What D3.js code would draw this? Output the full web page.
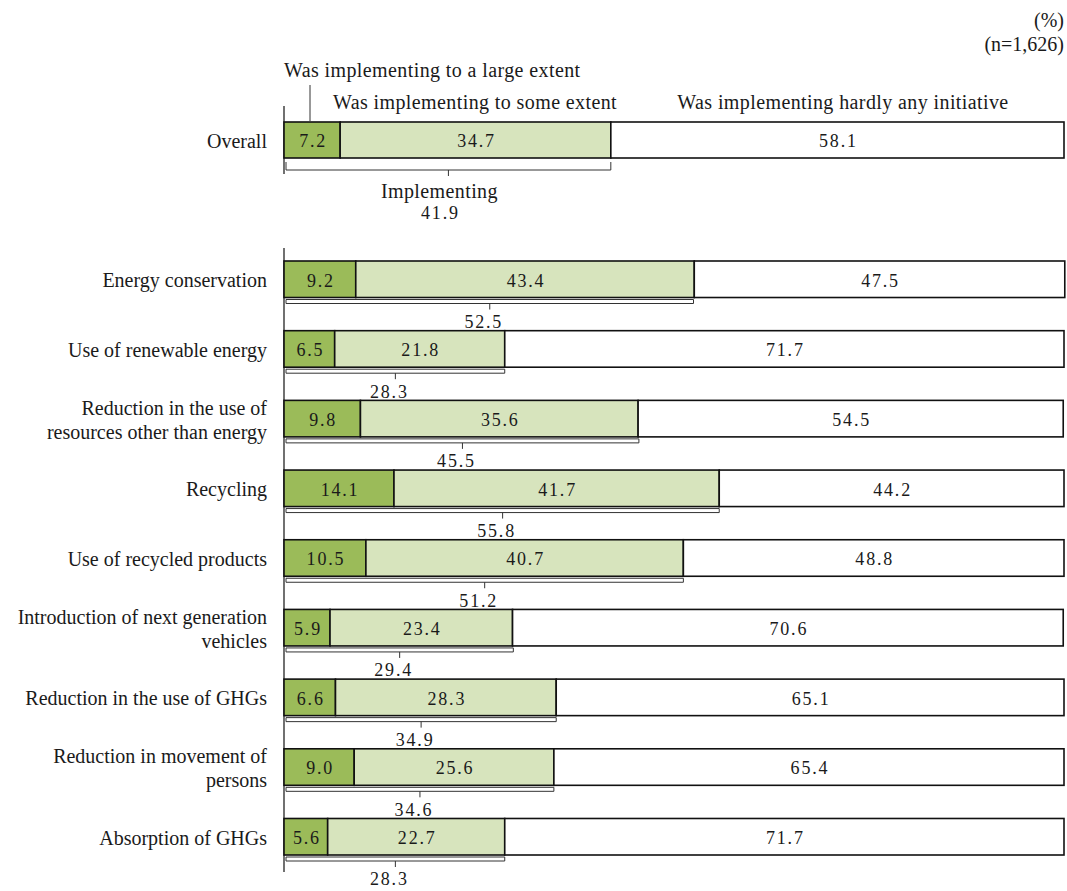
<!DOCTYPE html>
<html>
<head>
<meta charset="utf-8">
<script src="https://cdn.jsdelivr.net/npm/d3@7"></script>
<style>
  body { margin: 0; background: #fff; }
  svg text { font-family: "Liberation Serif", "Times New Roman", serif; fill: #1a1a1a; }
  .num { font-size: 18px; letter-spacing: 1.8px; }
  .lab { font-size: 20px; }
  .leg { font-size: 20px; letter-spacing: 0.4px; }
</style>
</head>
<body>
<div id="chart-area"></div>
<script>
// data
var categories = ["Energy conservation", "Use of renewable energy", "Reduction in the use of\nresources other than energy",
    "Recycling", "Use of recycled products", "Introduction of next generation\nvehicles",
    "Reduction in the use of GHGs", "Reduction in movement of\npersons", "Absorption of GHGs"];
var large = [9.2, 6.5, 9.8, 14.1, 10.5, 5.9, 6.6, 9.0, 5.6];
var some = [43.4, 21.8, 35.6, 41.7, 40.7, 23.4, 28.3, 25.6, 22.7];
var hardly = [47.5, 71.7, 54.5, 44.2, 48.8, 70.6, 65.1, 65.4, 71.7];
var implementing = [52.5, 28.3, 45.5, 55.8, 51.2, 29.4, 34.9, 34.6, 28.3];

var overall = {large: 7.2, some: 34.7, hardly: 58.1, implementing: 41.9};
var seriesNames = ["Was implementing to a large extent", "Was implementing to some extent", "Was implementing hardly any initiative"];
var colors = ["#9bbb59", "#d7e4bd", "#ffffff"];

var width = 1067, height = 891;
var svg = d3.select("#chart-area").append("svg")
    .attr("width", width)
    .attr("height", height);

var x = d3.scaleLinear().domain([0, 100]).range([284, 1064]);

var y = d3.scaleBand()
    .domain(categories)
    .range([261, 855])
    .paddingInner(0.476)
    .paddingOuter(0);

var rows = categories.map(function(c, i) {
    return {name: c, vals: [large[i], some[i], hardly[i]], total: implementing[i]};
});

function drawBar(g, vals, y0, h) {
    var start = 0;
    vals.forEach(function(v, k) {
        g.append("rect")
            .attr("x", x(start))
            .attr("y", y0)
            .attr("width", x(start + v) - x(start))
            .attr("height", h)
            .attr("fill", colors[k])
            .attr("stroke", "#111")
            .attr("stroke-width", 1.6);
        g.append("text")
            .attr("class", "num")
            .attr("x", (x(start) + x(start + v)) / 2 + 1)
            .attr("y", y0 + h / 2 + 1)
            .attr("dy", "0.35em")
            .attr("text-anchor", "middle")
            .text(v.toFixed(1));
        start += v;
    });
}

// flattened brace under the "implementing" part
function drawBracket(g, total, yTop, open) {
    var x0 = x(0) + 2, x1 = x(total), xm = (x0 + x1) / 2;
    var d = open
        ? "M" + x0 + "," + yTop + "V" + (yTop + 8) + "H" + x1 + "V" + yTop
          + "M" + xm + "," + (yTop + 8) + "V" + (yTop + 14)
        : "M" + x0 + "," + (yTop + 4) + "V" + yTop + "H" + x1 + "V" + (yTop + 4) + "H" + x0
          + "M" + xm + "," + (yTop + 4) + "V" + (yTop + 10);
    g.append("path")
        .attr("d", d)
        .attr("fill", "none")
        .attr("stroke", "#333")
        .attr("stroke-width", 1);
}

// overall
var og = svg.append("g");
og.append("line").attr("x1", 284).attr("x2", 284).attr("y1", 106).attr("y2", 174)
    .attr("stroke", "#111").attr("stroke-width", 1.2);
drawBar(og, [overall.large, overall.some, overall.hardly], 122, 36);
og.append("text").attr("class", "lab").attr("x", 267).attr("y", 141).attr("dy", "0.35em")
    .attr("text-anchor", "end").text("Overall");
drawBracket(og, overall.implementing, 162, true);
var ocx = (x(0) + x(overall.implementing)) / 2 - 8;
og.append("text").attr("class", "leg").attr("x", ocx).attr("y", 191).attr("dy", "0.35em")
    .attr("text-anchor", "middle").text("Implementing");
og.append("text").attr("class", "num").attr("x", ocx + 1).attr("y", 213).attr("dy", "0.35em")
    .attr("text-anchor", "middle").text(overall.implementing.toFixed(1));

// legend labels
svg.append("text").attr("class", "leg").attr("x", 284).attr("y", 70).attr("dy", "0.35em")
    .text(seriesNames[0]);
svg.append("line").attr("x1", 310).attr("x2", 310).attr("y1", 85).attr("y2", 121)
    .attr("stroke", "#333").attr("stroke-width", 1);
svg.append("text").attr("class", "leg").attr("x", 333).attr("y", 102).attr("dy", "0.35em")
    .text(seriesNames[1]);
svg.append("text").attr("class", "leg").attr("x", 843).attr("y", 102).attr("dy", "0.35em")
    .attr("text-anchor", "middle").text(seriesNames[2]);

// unit notes
svg.append("text").attr("class", "lab").attr("x", 1064).attr("y", 20).attr("dy", "0.35em")
    .attr("text-anchor", "end").text("(%)");
svg.append("text").attr("class", "lab").attr("x", 1064).attr("y", 44).attr("dy", "0.35em")
    .attr("text-anchor", "end").text("(n=1,626)");

// category rows
var mg = svg.append("g");
mg.append("line").attr("x1", 284).attr("x2", 284).attr("y1", 248).attr("y2", 872)
    .attr("stroke", "#111").attr("stroke-width", 1.2);

rows.forEach(function(r) {
    var y0 = y(r.name), h = y.bandwidth();
    var rg = mg.append("g");
    drawBracket(rg, r.total, y0 + h + 2, false);
    rg.append("text")
        .attr("class", "num")
        .attr("x", (x(0) + x(r.total)) / 2 - 5)
        .attr("y", y0 + h + 24)
        .attr("dy", "0.35em")
        .attr("text-anchor", "middle")
        .text(r.total.toFixed(1));
    drawBar(rg, r.vals, y0, h);

    var lines = r.name.split("\n");
    var lab = rg.append("text")
        .attr("class", "lab")
        .attr("x", 267)
        .attr("text-anchor", "end");
    lines.forEach(function(l, j) {
        lab.append("tspan")
            .attr("x", 267)
            .attr("y", y0 + h / 2 + 1 + (j - (lines.length - 1) / 2) * 24)
            .attr("dy", "0.35em")
            .text(l);
    });
});
</script>
</body>
</html>
